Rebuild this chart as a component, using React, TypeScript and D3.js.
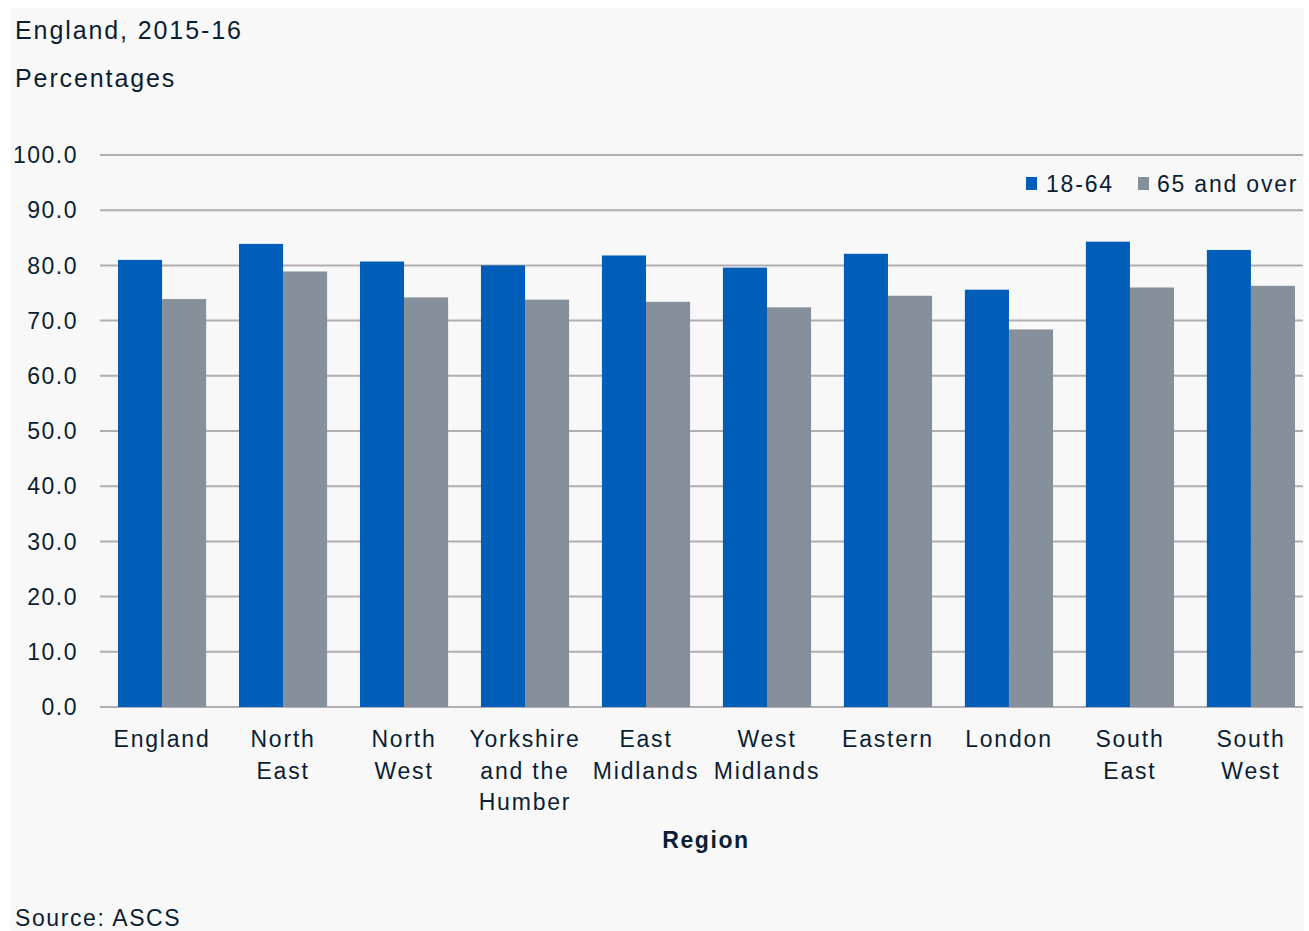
import React from "react";
import * as d3 from "d3";

const categories: string[][] = [
  ["England"],
  ["North", "East"],
  ["North", "West"],
  ["Yorkshire", "and the", "Humber"],
  ["East", "Midlands"],
  ["West", "Midlands"],
  ["Eastern"],
  ["London"],
  ["South", "East"],
  ["South", "West"],
];
const series = ["18-64", "65 and over"];
const values1864 = [81.0, 83.9, 80.7, 80.0, 81.8, 79.6, 82.1, 75.6, 84.3, 82.8];
const values65 = [73.9, 78.9, 74.2, 73.8, 73.4, 72.4, 74.5, 68.4, 76.0, 76.3];
const yTicks = [0, 10, 20, 30, 40, 50, 60, 70, 80, 90, 100];
const colors = ["#005EB8", "#86909B"];

const W = 1309;
const H = 931;
const FONT = "'Liberation Sans', Arial, sans-serif";
const TXT = "#0b1e33";

export default function App() {
  const keys = categories.map((c) => c.join(" "));
  const x = d3.scaleBand<string>().domain(keys).range([118, 1295]).paddingInner(0.2715).paddingOuter(0);
  const xs = d3.scaleBand<string>().domain(series).range([0, x.bandwidth()]).padding(0);
  const y = d3.scaleLinear().domain([0, 100]).range([707, 155]);
  const data = [values1864, values65];

  return (
    <svg width={W} height={H} style={{ position: "absolute", left: 0, top: 0 }} fontFamily={FONT}>
      <rect x={0} y={0} width={W} height={H} fill="#ffffff" />
      <rect x={10} y={8} width={1294} height={H - 8} fill="#f8f8f8" />
      <text x={15} y={39} fontSize={25} letterSpacing={1.9} fill={TXT}>England, 2015-16</text>
      <text x={15} y={87} fontSize={25} letterSpacing={1.9} fill={TXT}>Percentages</text>

      {yTicks.map((t) => (
        <g key={t}>
          <line x1={100} x2={1303} y1={y(t)} y2={y(t)} stroke="#b2adb4" strokeWidth={2} />
          <text x={78} y={y(t)} dy="0.36em" textAnchor="end" fontSize={23} letterSpacing={1.5} fill={TXT}>
            {t.toFixed(1)}
          </text>
        </g>
      ))}

      {keys.map((k, i) => (
        <g key={k} transform={`translate(${x(k)},0)`}>
          {series.map((s, j) => (
            <rect
              key={s}
              x={xs(s)}
              y={y(data[j][i])}
              width={xs.bandwidth()}
              height={y(0) - y(data[j][i])}
              fill={colors[j]}
            />
          ))}
        </g>
      ))}

      {categories.map((lines, i) => (
        <text
          key={i}
          x={(x(keys[i]) as number) + x.bandwidth() / 2}
          y={747}
          textAnchor="middle"
          fontSize={23}
          letterSpacing={1.8}
          fill={TXT}
        >
          {lines.map((l, li) => (
            <tspan key={li} x={(x(keys[i]) as number) + x.bandwidth() / 2} dy={li === 0 ? 0 : 31.5}>
              {l}
            </tspan>
          ))}
        </text>
      ))}

      <text x={706} y={848} textAnchor="middle" fontSize={23} fontWeight="bold" letterSpacing={1.6} fill={TXT}>
        Region
      </text>

      <rect x={1026} y={177} width={11} height={13} fill={colors[0]} />
      <text x={1046} y={192} fontSize={23} letterSpacing={1.8} fill={TXT}>{series[0]}</text>
      <rect x={1138} y={177} width={11} height={13} fill={colors[1]} />
      <text x={1157} y={192} fontSize={23} letterSpacing={1.8} fill={TXT}>{series[1]}</text>

      <text x={15} y={926} fontSize={23} letterSpacing={1.6} fill={TXT}>Source: ASCS</text>
    </svg>
  );
}
